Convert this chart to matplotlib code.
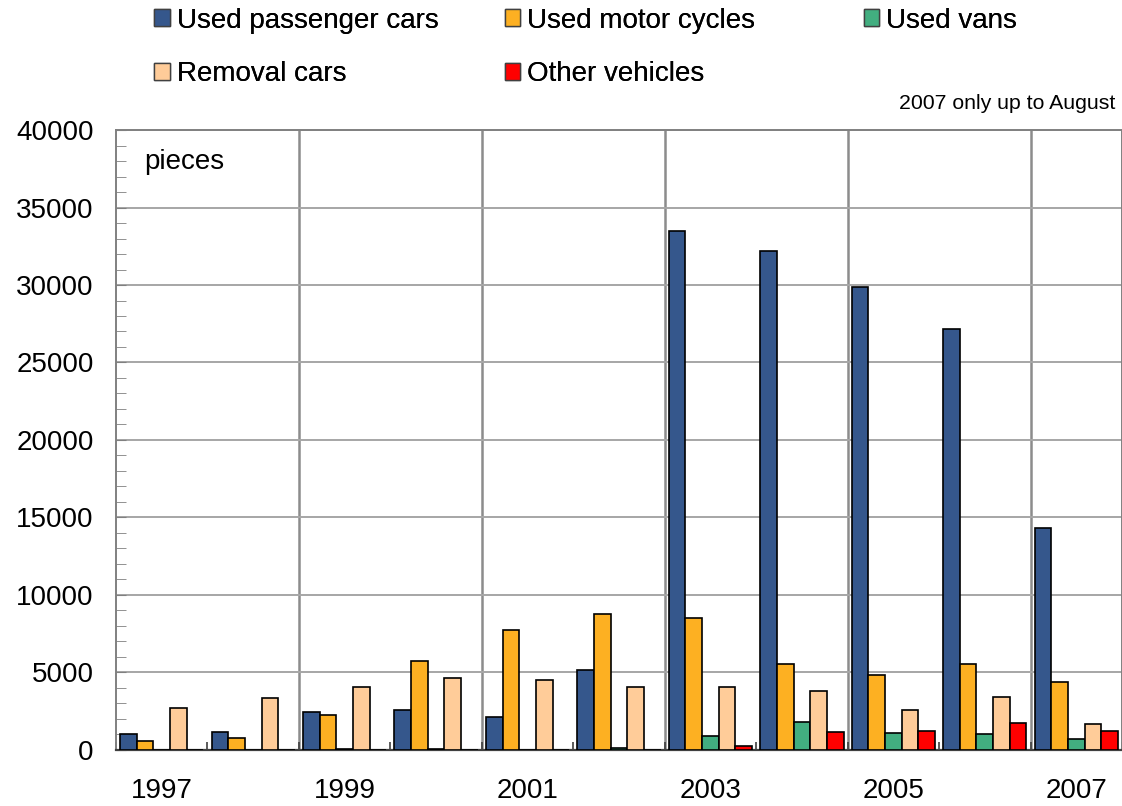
import numpy as np
import matplotlib.pyplot as plt
from matplotlib.patches import Patch
from matplotlib.ticker import MultipleLocator, FixedLocator

plt.rcParams['font.family'] = ['Liberation Sans', 'DejaVu Sans']

years = [1997, 1998, 1999, 2000, 2001, 2002, 2003, 2004, 2005, 2006, 2007]
passenger = [1000, 1180, 2450, 2600, 2110, 5180, 33490, 32200, 29870, 27150, 14350]
motor = [560, 770, 2240, 5740, 7720, 8750, 8490, 5530, 4820, 5570, 4390]
vans = [0, 20, 50, 50, 30, 150, 900, 1780, 1120, 1030, 690]
removal = [2700, 3380, 4040, 4620, 4490, 4040, 4090, 3780, 2600, 3400, 1700]
other = [0, 0, 0, 0, 0, 0, 260, 1180, 1250, 1740, 1200]

names = ["Used passenger cars", "Used motor cycles", "Used vans",
         "Removal cars", "Other vehicles"]
series = [passenger, motor, vans, removal, other]
colors = ["#35578C", "#FDB022", "#42AE80", "#FFCC99", "#FF0000"]

fig = plt.figure(figsize=(11.22, 8.06), dpi=100)
ax = fig.add_axes([0.1034, 0.0695, 0.8966, 0.7692])

x = np.arange(len(years))
w = 0.182
for i, (vals, c) in enumerate(zip(series, colors)):
    ax.bar(x + (i - 2) * w, vals, w, color=c, edgecolor="black",
           linewidth=1.2, zorder=3)

ax.set_xlim(-0.5, len(years) - 0.5)
ax.set_ylim(0, 40000)

# y axis
ax.yaxis.set_major_locator(MultipleLocator(5000))
ax.yaxis.set_minor_locator(MultipleLocator(1000))
ax.tick_params(axis="y", which="both", direction="in", length=7,
               color="#808080", labelsize=20, pad=16)
ax.grid(axis="y", which="major", color="#A6A6A6", linewidth=1.4, zorder=0)

# x axis: labels on odd years, small ticks at boundaries
ax.set_xticks(x[::2])
ax.set_xticklabels([str(y) for y in years[::2]])
ax.xaxis.set_minor_locator(FixedLocator(np.arange(-0.5, len(years), 1.0)))
ax.tick_params(axis="x", which="major", length=0, labelsize=20, pad=20)
ax.tick_params(axis="x", which="minor", direction="in", length=6,
               color="#404040", width=1.2)
for b in np.arange(1.5, len(years), 2):
    ax.axvline(b, color="#8C8C8C", linewidth=1.8, zorder=1)

for s in ["left", "top", "right"]:
    ax.spines[s].set_color("#808080")
    ax.spines[s].set_linewidth(1.4)
ax.spines["bottom"].set_color("#404040")
ax.spines["bottom"].set_linewidth(1.6)

ax.text(0.028, 0.97, "pieces", transform=ax.transAxes, fontsize=20,
        va="top", ha="left")
fig.text(0.994, 0.872, "2007 only up to August", fontsize=15.3,
         ha="right", va="center")

# legend, one block per column
handles = [Patch(facecolor=c, edgecolor="#404040", linewidth=1.0)
           for c in colors]
cols = [[0, 3], [1, 4], [2]]
xpos = [0.131, 0.443, 0.763]
for idx, xp in zip(cols, xpos):
    leg = fig.legend([handles[i] for i in idx], [names[i] for i in idx],
                     loc="upper left", bbox_to_anchor=(xp, 1.0),
                     frameon=False, fontsize=20, handlelength=0.55,
                     handleheight=0.55, handletextpad=0.25,
                     labelspacing=1.0, borderaxespad=0.0, borderpad=0.27)
    fig.add_artist(leg)

fig.savefig("out.png", dpi=100)
